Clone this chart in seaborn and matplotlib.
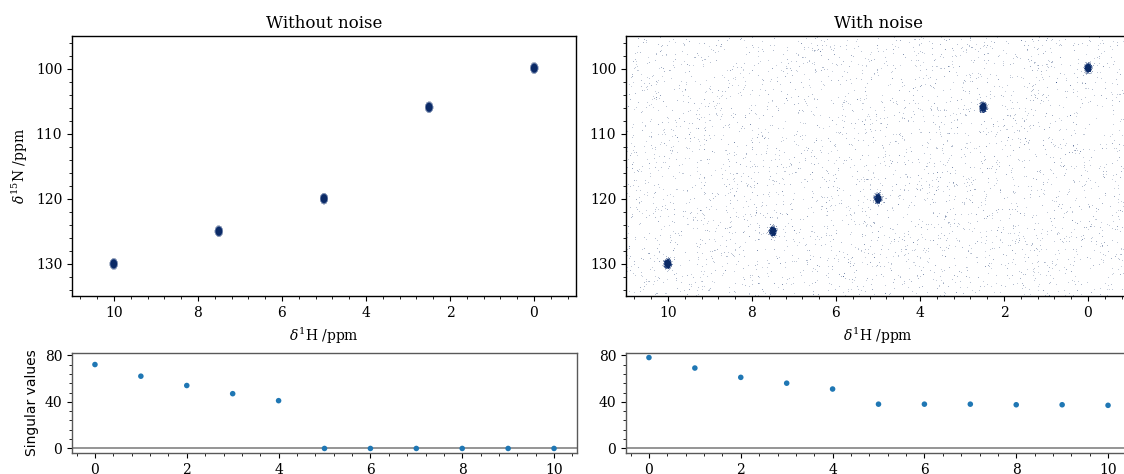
import numpy as np
import matplotlib
matplotlib.use("Agg")
import matplotlib.pyplot as plt
from matplotlib.ticker import AutoMinorLocator, FixedLocator
from matplotlib.colors import Normalize, LinearSegmentedColormap
import pandas as pd
import seaborn as sns

# Peak positions of the synthetic 1H-15N correlation spectrum
peak_h = [10.0, 7.5, 5.0, 2.5, 0.0]
peak_n = [130.0, 125.0, 120.0, 106.0, 100.0]

# Singular values of the spectrum matrix, without and with noise
sv_index = list(range(11))
sv_clean = [72, 62, 54, 47, 41, 0, 0, 0, 0, 0, 0]
sv_noisy = [78, 69, 61, 56, 51, 38, 38, 38, 37.5, 37.5, 37]

h_ticks = [10, 8, 6, 4, 2, 0]
n_ticks = [100, 110, 120, 130]
sv_ticks = [0, 40, 80]
sv_xticks = [0, 2, 4, 6, 8, 10]

plt.rcParams.update({
    "font.family": "DejaVu Serif",
    "mathtext.fontset": "dejavuserif",
    "font.size": 10,
    "axes.linewidth": 1.0,
    "xtick.direction": "out",
    "ytick.direction": "out",
})

W, H = 1124, 474
fig = plt.figure(figsize=(W / 100, H / 100), dpi=100)


def rect(x0, y0, x1, y1):
    return [x0 / W, 1 - y1 / H, (x1 - x0) / W, (y1 - y0) / H]


ax_tl = fig.add_axes(rect(72, 36, 576, 296))
ax_tr = fig.add_axes(rect(626, 36, 1130, 296))
ax_bl = fig.add_axes(rect(72, 353, 577, 453))
ax_br = fig.add_axes(rect(626, 353, 1131, 453))

# 2D spectrum on a regular ppm grid
h_axis = np.linspace(-1, 11, 520)
n_axis = np.linspace(95, 135, 262)
HH, NN = np.meshgrid(h_axis, n_axis)
spectrum = np.zeros_like(HH)
for h0, n0 in zip(peak_h, peak_n):
    spectrum += np.exp(-0.5 * ((HH - h0) / 0.05) ** 2 - 0.5 * ((NN - n0) / 0.45) ** 2)

noise = np.random.default_rng(11).normal(0.0, 0.06, spectrum.shape)
spectrum_noisy = spectrum + noise

cmap = LinearSegmentedColormap.from_list(
    "speck", ["#c9d0dc", "#7f8fae", "#2c4a86", "#0b2a66"])
cmap.set_bad("white")
threshold = 0.115
norm = Normalize(vmin=threshold, vmax=0.42)

for ax, data, title in [(ax_tl, spectrum, "Without noise"),
                        (ax_tr, spectrum_noisy, "With noise")]:
    ax.pcolormesh(h_axis, n_axis, np.ma.masked_less(data, threshold),
                  cmap=cmap, norm=norm, shading="auto", rasterized=True)
    ax.set_xlim(11, -1)
    ax.set_ylim(135, 95)
    ax.xaxis.set_major_locator(FixedLocator(h_ticks))
    ax.yaxis.set_major_locator(FixedLocator(n_ticks))
    ax.xaxis.set_minor_locator(AutoMinorLocator(5))
    ax.yaxis.set_minor_locator(AutoMinorLocator(5))
    ax.tick_params(which="major", length=3.5, width=0.8)
    ax.tick_params(which="minor", length=2, width=0.6)
    ax.set_title(title, fontsize=12, pad=6)
    ax.set_xlabel(r"$\delta^{1}$H /ppm", fontsize=10)

ax_tl.set_ylabel(r"$\delta^{15}$N /ppm", fontsize=10)

# Singular value spectra
sv_frame = pd.DataFrame({"index": sv_index, "clean": sv_clean, "noisy": sv_noisy})
for ax, col in [(ax_bl, "clean"), (ax_br, "noisy")]:
    ax.axhline(0, color="0.55", lw=1.3, zorder=1)
    sns.scatterplot(data=sv_frame, x="index", y=col, ax=ax, s=16,
                    color="#1f77b4", edgecolor="none", zorder=3)
    ax.set_xlim(-0.5, 10.5)
    ax.set_ylim(-3.9, 81.9)
    ax.xaxis.set_major_locator(FixedLocator(sv_xticks))
    ax.yaxis.set_major_locator(FixedLocator(sv_ticks))
    ax.xaxis.set_minor_locator(AutoMinorLocator(5))
    ax.yaxis.set_minor_locator(AutoMinorLocator(5))
    ax.tick_params(which="major", length=3.5, width=0.8)
    ax.tick_params(which="minor", length=2, width=0.6)
    for sp in ax.spines.values():
        sp.set_color("0.35")
    ax.set_xlabel("")
    ax.set_ylabel("")

ax_bl.set_ylabel("Singular values", fontsize=10, family="DejaVu Sans")

fig.savefig("out.png", dpi=100)
